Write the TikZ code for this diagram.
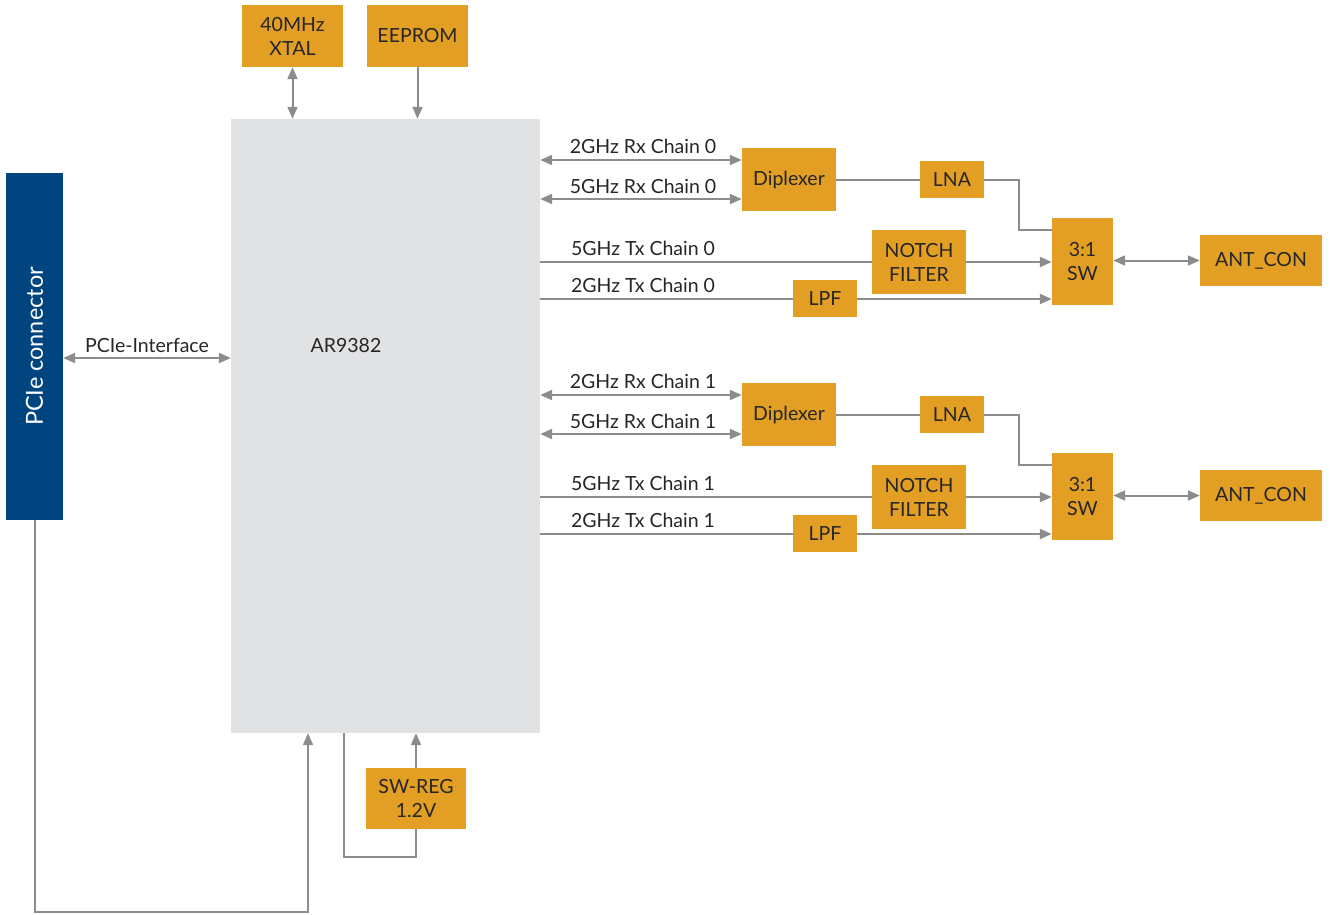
\documentclass[tikz,border=0pt]{standalone}
\usepackage{fontspec}
\setmainfont{Lato}
\usetikzlibrary{arrows.meta}
\definecolor{orangebox}{HTML}{E39E24}
\definecolor{bluebox}{HTML}{004480}
\definecolor{graybox}{HTML}{E1E2E4}
\definecolor{wire}{HTML}{8C8C8F}
\definecolor{txt}{HTML}{262626}
\tikzset{
  obox/.style={rectangle, fill=orangebox, inner sep=0pt, text=txt, align=center, font=\fontsize{19.5}{24}\selectfont},
  lbl/.style={inner sep=0pt, text=txt, font=\fontsize{19.5}{24}\selectfont},
  wireline/.style={draw=wire, line width=2pt},
  arr/.style={wireline, -{Triangle[length=12pt,width=10pt]}},
  dbl/.style={wireline, {Triangle[length=12pt,width=10pt]}-{Triangle[length=12pt,width=10pt]}},
}
\begin{document}
\begin{tikzpicture}[x=1pt,y=-1pt]
\useasboundingbox (0,0) rectangle (1330,915);
% main blocks
\node[rectangle, fill=bluebox, inner sep=0pt, minimum width=57pt, minimum height=347pt] (pcie) at (34.5,346.5) {};
\node[rotate=90, text=white, font=\fontsize{23.5}{28}\selectfont] (pcielbl) at (34.5,346.5) {PCIe connector};
\node[rectangle, fill=graybox, inner sep=0pt, minimum width=309pt, minimum height=614pt] (ar) at (385.5,426) {};
\node[lbl] (arlbl) at (346,346) {AR9382};
% top
\node[obox, minimum width=101pt, minimum height=62pt] (xtal) at (292.5,36) {40MHz\\XTAL};
\node[obox, minimum width=101pt, minimum height=62pt] (eeprom) at (417.5,36) {EEPROM};
\draw[dbl] (xtal.south) -- (xtal.south |- ar.north);
\draw[arr] (eeprom.south) -- (eeprom.south |- ar.north);
% PCIe interface
\draw[dbl] (pcie.east |- 0,358) -- (ar.west |- 0,358);
\node[lbl] (pcielab) at (147,345) {PCIe-Interface};
% chains
\foreach \i/\d in {0/0,1/235}{
  \begin{scope}[yshift=-\d pt]
  \node[obox, minimum width=94pt, minimum height=63pt] (dip\i) at (789,179.5) {Diplexer};
  \node[obox, minimum width=64pt, minimum height=37pt] (lna\i) at (952,179.5) {LNA};
  \node[obox, minimum width=61pt, minimum height=87pt] (sw\i) at (1082.5,261.5) {3:1\\SW};
  \node[obox, minimum width=94pt, minimum height=64pt] (notch\i) at (919,262) {NOTCH\\FILTER};
  \node[obox, minimum width=64pt, minimum height=37pt] (lpf\i) at (825,298.5) {LPF};
  \node[obox, minimum width=122pt, minimum height=51pt] (ant\i) at (1261,260.5) {ANT\_CON};
  \draw[dbl] (ar.east |- 0,160) -- (dip\i.west |- 0,160);
  \draw[dbl] (ar.east |- 0,199) -- (dip\i.west |- 0,199);
  \draw[wireline] (dip\i.east |- lna\i.west) -- (lna\i.west);
  \draw[wireline] (lna\i.east) -- (1019,179.5) -- (1019,230) -- (sw\i.west |- 0,230);
  \draw[wireline] (ar.east |- 0,262) -- (notch\i.west |- 0,262);
  \draw[arr] (notch\i.east |- 0,262) -- (sw\i.west |- 0,262);
  \draw[wireline] (ar.east |- 0,299) -- (lpf\i.west |- 0,299);
  \draw[arr] (lpf\i.east |- 0,299) -- (sw\i.west |- 0,299);
  \draw[dbl] (sw\i.east |- ant\i.west) -- (ant\i.west);
  \node[lbl] (l2rx\i) at (643,146) {2GHz Rx Chain \i};
  \node[lbl] (l5rx\i) at (643,186) {5GHz Rx Chain \i};
  \node[lbl] (l5tx\i) at (643,248) {5GHz Tx Chain \i};
  \node[lbl] (l2tx\i) at (643,285) {2GHz Tx Chain \i};
  \end{scope}
}
% bottom
\node[obox, minimum width=100pt, minimum height=61pt] (swreg) at (416,798.5) {SW-REG\\1.2V};
\draw[arr] (swreg.north) -- (swreg.north |- ar.south);
\draw[wireline] (ar.south -| 344,0) -- (344,857) -- (416,857) -- (swreg.south);
\draw[arr] (pcie.south) -- (34.5,912) -- (308,912) -- (ar.south -| 308,0);
\end{tikzpicture}
\end{document}
